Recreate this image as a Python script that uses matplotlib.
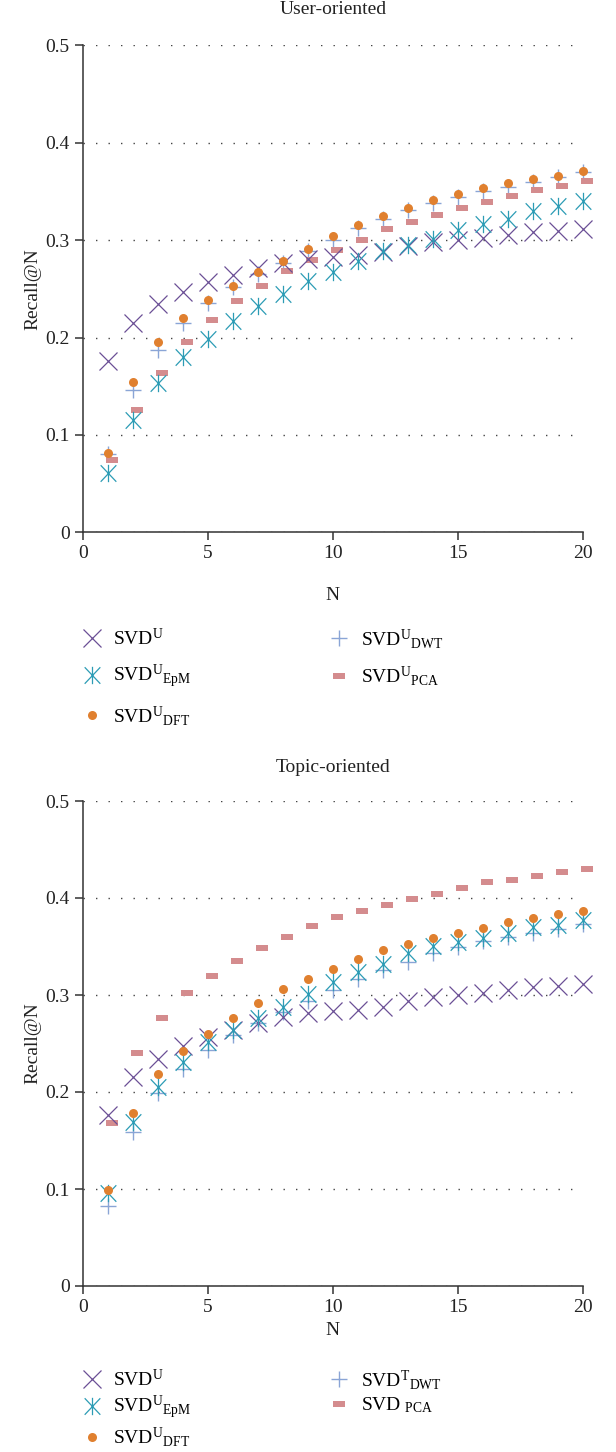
import numpy as np
import matplotlib
matplotlib.use('Agg')
import matplotlib.pyplot as plt
import matplotlib.transforms as mtransforms
from matplotlib.path import Path

plt.rcParams['font.family'] = ['Liberation Serif', 'DejaVu Serif']
plt.rcParams['mathtext.fontset'] = 'custom'
plt.rcParams['mathtext.rm'] = 'Liberation Serif'
plt.rcParams['mathtext.it'] = 'Liberation Serif:italic'

N = np.arange(1, 21)

# user-oriented
u_svd = [0.176, 0.215, 0.234, 0.247, 0.257, 0.264, 0.271, 0.277, 0.281, 0.283,
         0.285, 0.288, 0.294, 0.298, 0.300, 0.302, 0.305, 0.308, 0.309, 0.311]
u_epm = [0.061, 0.115, 0.153, 0.180, 0.198, 0.217, 0.232, 0.245, 0.258, 0.267,
         0.279, 0.289, 0.295, 0.301, 0.310, 0.317, 0.322, 0.330, 0.335, 0.340]
u_dft = [0.081, 0.154, 0.195, 0.220, 0.239, 0.253, 0.267, 0.279, 0.291, 0.304,
         0.315, 0.325, 0.333, 0.341, 0.347, 0.354, 0.359, 0.363, 0.366, 0.371]
u_dwt = [0.080, 0.146, 0.187, 0.215, 0.235, 0.252, 0.265, 0.277, 0.289, 0.300,
         0.312, 0.322, 0.331, 0.338, 0.344, 0.350, 0.355, 0.360, 0.365, 0.370]
u_pca = [0.074, 0.126, 0.164, 0.195, 0.218, 0.237, 0.253, 0.268, 0.280, 0.290,
         0.300, 0.311, 0.319, 0.326, 0.333, 0.339, 0.345, 0.351, 0.356, 0.361]

# topic-oriented
t_svd = u_svd
t_epm = [0.096, 0.169, 0.205, 0.231, 0.252, 0.264, 0.276, 0.288, 0.301, 0.313,
         0.324, 0.332, 0.343, 0.351, 0.355, 0.359, 0.364, 0.370, 0.372, 0.377]
t_dft = [0.099, 0.178, 0.219, 0.242, 0.260, 0.276, 0.292, 0.306, 0.317, 0.327,
         0.337, 0.346, 0.353, 0.359, 0.364, 0.369, 0.375, 0.379, 0.383, 0.387]
t_dwt = [0.082, 0.159, 0.199, 0.224, 0.243, 0.259, 0.271, 0.282, 0.294, 0.305,
         0.316, 0.326, 0.334, 0.343, 0.349, 0.356, 0.360, 0.364, 0.368, 0.373]
t_pca = [0.168, 0.240, 0.276, 0.302, 0.320, 0.335, 0.348, 0.360, 0.371, 0.380,
         0.387, 0.393, 0.399, 0.404, 0.410, 0.416, 0.419, 0.423, 0.427, 0.430]

labels_u = [r'SVD$^{\mathrm{U}}$', r'SVD$^{\mathrm{U}}{}_{\mathrm{EpM}}$',
            r'SVD$^{\mathrm{U}}{}_{\mathrm{DFT}}$', r'SVD$^{\mathrm{U}}{}_{\mathrm{DWT}}$',
            r'SVD$^{\mathrm{U}}{}_{\mathrm{PCA}}$']
labels_t = [r'SVD$^{\mathrm{U}}$', r'SVD$^{\mathrm{U}}{}_{\mathrm{EpM}}$',
            r'SVD$^{\mathrm{U}}{}_{\mathrm{DFT}}$', r'SVD$^{\mathrm{T}}{}_{\mathrm{DWT}}$',
            r'SVD$\,\,{}_{\mathrm{PCA}}$']

c_svd = '#6b4f96'
c_epm = '#2c9cb5'
c_dft = '#e0802f'
c_dwt = '#8aa5d6'
c_pca = '#d48c8e'

# asterisk = vertical bar + X
star = Path([(0, -1), (0, 1), (-0.9, -0.95), (0.9, 0.95), (-0.9, 0.95), (0.9, -0.95)],
            [Path.MOVETO, Path.LINETO, Path.MOVETO, Path.LINETO, Path.MOVETO, Path.LINETO])
dash = Path([(-1, -0.5), (1, -0.5), (1, 0.5), (-1, 0.5), (-1, -0.5)],
            [Path.MOVETO, Path.LINETO, Path.LINETO, Path.LINETO, Path.CLOSEPOLY])

fig = plt.figure(figsize=(6.16, 14.52), dpi=100)
ax1 = fig.add_axes([82.7/616, 1-532.3/1452, 500/616, 487/1452])
ax2 = fig.add_axes([82.7/616, 1-1286/1452, 500/616, 485/1452])


def draw(ax, svd, epm, dft, dwt, pca, labels):
    off = ax.transData + mtransforms.ScaledTranslation(0.04, 0, fig.dpi_scale_trans)
    h4, = ax.plot(N, dwt, ls='none', marker='+', ms=12, mew=1.0, color=c_dwt, clip_on=False)
    h5, = ax.plot(N, pca, ls='none', marker=dash, ms=9, mew=0, color=c_pca, clip_on=False, transform=off)
    h1, = ax.plot(N, svd, ls='none', marker='x', ms=12.5, mew=0.9, color=c_svd, clip_on=False)
    h2, = ax.plot(N, epm, ls='none', marker=star, ms=12.5, mew=0.9, color=c_epm, clip_on=False)
    h3, = ax.plot(N, dft, ls='none', marker='o', ms=6.5, mew=0, color=c_dft, clip_on=False)
    ax.set_xlim(0, 20)
    ax.set_ylim(0, 0.5)
    ax.set_xticks([0, 5, 10, 15, 20])
    ax.set_yticks([0, 0.1, 0.2, 0.3, 0.4, 0.5])
    ax.set_yticklabels(['0', '0.1', '0.2', '0.3', '0.4', '0.5'])
    for s in ['top', 'right']:
        ax.spines[s].set_visible(False)
    for s in ['left', 'bottom']:
        ax.spines[s].set_color('#333333')
        ax.spines[s].set_linewidth(1.1)
    ax.tick_params(direction='out', length=5.5, width=1.1, color='#333333',
                   labelsize=14, labelcolor='#222222', pad=4)
    ax.yaxis.grid(True, linestyle=(0, (1, 8)), linewidth=1.0, color='#444444')
    ax.set_axisbelow(True)
    ax.set_ylabel('Recall@N', fontsize=14, color='#222222', labelpad=3)
    return [h1, h2, h3, h4, h5]


hs = draw(ax1, u_svd, u_epm, u_dft, u_dwt, u_pca, labels_u)
ax1.set_xlabel('N', fontsize=14, color='#222222', labelpad=18)
fig.text(333/616, 1-10/1452, 'User-oriented', ha='center', va='center', fontsize=14, color='#222222')
fig.legend(hs, labels_u, ncol=2, loc='upper left', bbox_to_anchor=(82/616, 1-627/1452),
           frameon=False, fontsize=14, handlelength=1.0, handletextpad=0.6,
           columnspacing=7.1, labelspacing=0.7, borderpad=0, borderaxespad=0)

hs = draw(ax2, t_svd, t_epm, t_dft, t_dwt, t_pca, labels_t)
ax2.set_xlabel('N', fontsize=14, color='#222222', labelpad=4)
fig.text(333/616, 1-768/1452, 'Topic-oriented', ha='center', va='center', fontsize=14, color='#222222')
fig.legend(hs, labels_t, ncol=2, loc='upper left', bbox_to_anchor=(82/616, 1-1368/1452),
           frameon=False, fontsize=14, handlelength=1.0, handletextpad=0.6,
           columnspacing=7.1, labelspacing=0.2, borderpad=0, borderaxespad=0)

plt.savefig('out.png', dpi=100)
